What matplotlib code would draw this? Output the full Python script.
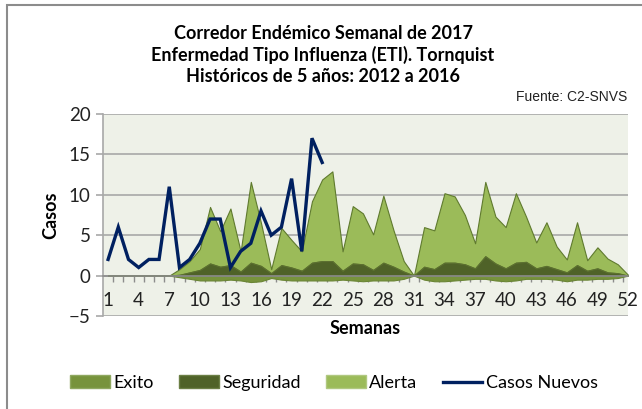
import numpy as np
import matplotlib.pyplot as plt
from matplotlib.patches import Patch, Rectangle
from matplotlib.lines import Line2D

plt.rcParams['font.family'] = ['Lato', 'DejaVu Sans']

# datos
semanas = np.arange(1, 53)
exito = [0, 0, 0, 0, 0, 0, 0, -0.2, -0.4, -0.6, -0.6, -0.6, -0.5, -0.6, -0.8, -0.7,
         -0.3, -0.5, -0.6, -0.6, -0.6, -0.6, -0.6, -0.5, -0.6, -0.7, -0.6, -0.6, -0.6,
         -0.4, 0, -0.5, -0.7, -0.7, -0.6, -0.5, -0.4, -0.4, -0.6, -0.7, -0.6, -0.4,
         -0.4, -0.4, -0.5, -0.7, -0.5, -0.5, -0.4, -0.4, -0.3, 0]
seguridad = [0, 0, 0, 0, 0, 0, 0, 0.1, 0.4, 0.7, 1.5, 1.1, 1.3, 0.5, 1.6, 1.2,
             0.3, 1.3, 1.0, 0.6, 1.6, 1.8, 1.8, 0.6, 1.5, 1.4, 0.7, 1.6, 1.1,
             0.5, 0, 1.1, 0.8, 1.6, 1.6, 1.4, 0.9, 2.4, 1.5, 0.9, 1.6, 1.7,
             0.9, 1.2, 0.8, 0.4, 1.3, 0.6, 0.9, 0.4, 0.3, 0]
alerta = [0, 0, 0, 0, 0, 0, 0, 0.8, 1.8, 3.3, 8.5, 5.5, 8.3, 3.0, 11.6, 6.5,
          0.8, 5.9, 4.4, 3.0, 9.2, 11.9, 12.9, 3.0, 8.6, 7.7, 5.1, 9.9, 5.6,
          1.8, 0, 6.0, 5.6, 10.2, 9.8, 7.5, 4.0, 11.6, 7.3, 6.0, 10.2, 7.3,
          4.1, 6.6, 3.6, 2.0, 6.6, 1.9, 3.5, 2.1, 1.4, 0.1]
casos_nuevos = [2, 6, 2, 1, 2, 2, 11, 1, 2, 4, 7, 7, 1, 3, 4, 8, 5, 6, 12, 3, 17, 14]
x_labels = np.arange(1, 53, 3)

c_exito = '#77933C'
c_seg = '#4F6228'
c_alerta = '#9BBB59'
c_linea = '#002060'

fig = plt.figure(figsize=(6.42, 4.09), dpi=100, facecolor='white')
ax = fig.add_axes([103/642, 93/409, 525/642, 202/409])
ax.set_facecolor('#EEF1E8')

# marco del grafico
fig.patches.append(Rectangle((7/642, -0.2), 1.2, 1.2 - 5/409,
                             transform=fig.transFigure, fill=False,
                             edgecolor='#8C8C8C', lw=1.5))

ax.fill_between(semanas, exito, 0, color=c_exito, lw=0.8, edgecolor='#6A8535', zorder=2)
ax.fill_between(semanas, 0, seguridad, color=c_seg, lw=0.8, edgecolor='#5C7030', zorder=3)
ax.fill_between(semanas, seguridad, alerta, color=c_alerta, lw=0.8, edgecolor='#5F7A2E', zorder=2.5)
ax.plot(semanas[:len(casos_nuevos)], casos_nuevos, color=c_linea, lw=2.4, zorder=5,
        solid_joinstyle='miter')

ax.set_xlim(0.5, 52)
ax.set_ylim(-5, 20)
ax.set_yticks([-5, 0, 5, 10, 15, 20])
ax.grid(axis='y', color='#A8A8A8', lw=1.2, zorder=1)
ax.set_axisbelow(True)

ax.spines['top'].set_visible(False)
ax.spines['right'].set_visible(False)
ax.spines['left'].set_color('#A8A8A8')
ax.spines['left'].set_linewidth(1.2)
ax.spines['bottom'].set_position(('data', 0))
ax.spines['bottom'].set_color('#8C8C8C')
ax.spines['bottom'].set_linewidth(1.2)
ax.spines['bottom'].set_zorder(4)

ax.set_xticks(x_labels)
ax.set_xticks(np.arange(1.5, 52.5, 1), minor=True)
ax.tick_params(axis='x', which='major', length=0, pad=12, labelsize=13.5, colors='#222222')
ax.tick_params(axis='x', which='minor', length=4, width=1, color='#8C8C8C', direction='out')
ax.tick_params(axis='y', length=5, width=1.2, color='#A8A8A8', labelsize=13.5,
               labelcolor='#222222', pad=4)

ax.set_ylabel('Casos', fontsize=13, fontweight='bold', labelpad=7)
fig.text(365/642, 1 - 328/409, 'Semanas', ha='center', va='center',
         fontsize=13, fontweight='bold')

titulo = ('Corredor Endémico Semanal de 2017\n'
          'Enfermedad Tipo Influenza (ETI). Tornquist\n'
          'Históricos de 5 años: 2012 a 2016')
fig.text(323/642, 1 - 55/409, titulo, ha='center', va='center', fontsize=13,
         fontweight='bold', linespacing=1.3)
fig.text(627/642, 1 - 97/409, 'Fuente: C2-SNVS', ha='right', va='center',
         fontsize=10, family='Liberation Sans', color='#222222')

handles = [Patch(facecolor=c_exito, edgecolor='#8FA860', label='Exito'),
           Patch(facecolor=c_seg, edgecolor='#6B7F45', label='Seguridad'),
           Patch(facecolor=c_alerta, edgecolor='#B0C880', label='Alerta'),
           Line2D([], [], color=c_linea, lw=2.4, label='Casos Nuevos')]
fig.legend(handles=handles, loc='center', bbox_to_anchor=(334/642, 1 - 383/409),
           ncol=4, frameon=False, fontsize=13, handlelength=2.2, handleheight=0.7,
           handletextpad=0.2, columnspacing=1.4)

fig.savefig('out.png', dpi=100)
